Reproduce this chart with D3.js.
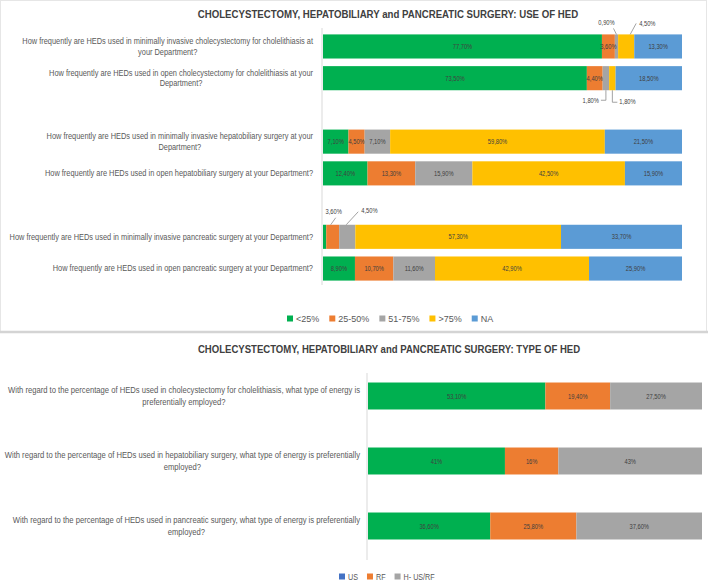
<!DOCTYPE html>
<html><head><meta charset="utf-8">
<script src="https://cdn.jsdelivr.net/npm/d3@7"></script>
<style>body{margin:0;background:#fff}svg{display:block}</style>
</head><body>
<script>
// ---------- DATA ----------
const topTitle = "CHOLECYSTECTOMY, HEPATOBILIARY and PANCREATIC SURGERY: USE OF HED";
const topQuestions = [
  ["How frequently are HEDs used in minimally invasive cholecystectomy for cholelithiasis at", "your Department?"],
  ["How frequently are HEDs used in open cholecystectomy for cholelithiasis at your", "Department?"],
  ["How frequently are HEDs used in minimally invasive hepatobiliary surgery at your", "Department?"],
  ["How frequently are HEDs used in open hepatobiliary surgery at your Department?"],
  ["How frequently are HEDs used in minimally invasive pancreatic surgery at your Department?"],
  ["How frequently are HEDs used in open pancreatic surgery at your Department?"]
];
const topGroup = ["cholecystectomy", "cholecystectomy", "hepatobiliary", "hepatobiliary", "pancreatic", "pancreatic"];
const topSeries = ["<25%", "25-50%", "51-75%", ">75%", "NA"];
const topLt25  = [77.7, 73.5, 7.1, 12.4, 0.9, 8.9];
const top25_50 = [3.6, 4.4, 4.5, 13.3, 3.6, 10.7];
const top51_75 = [0.9, 1.8, 7.1, 15.9, 4.5, 11.6];
const topGt75  = [4.5, 1.8, 59.8, 42.5, 57.3, 42.9];
const topNA    = [13.3, 18.5, 21.5, 15.9, 33.7, 25.9];

const bottomTitle = "CHOLECYSTECTOMY, HEPATOBILIARY and PANCREATIC SURGERY: TYPE OF HED";
const bottomQuestions = [
  ["With regard to the percentage of HEDs used in cholecystectomy for cholelithiasis, what type of energy is", "preferentially employed?"],
  ["With regard to the percentage of HEDs used in hepatobiliary surgery, what type of energy is preferentially", "employed?"],
  ["With regard to the percentage of HEDs used in pancreatic surgery, what type of energy is preferentially", "employed?"]
];
const bottomSeries = ["US", "RF", "H- US/RF"];
const bottomUS  = [53.1, 41, 36.6];
const bottomRF  = [19.4, 16, 25.8];
const bottomHyb = [27.5, 43, 37.6];

// ---------- STYLE ----------
const topColors = ["#00B050", "#ED7D31", "#A5A5A5", "#FFC000", "#5B9BD5"];
const bottomBarColors = ["#00B050", "#ED7D31", "#A5A5A5"];
const bottomLegendColors = ["#4472C4", "#ED7D31", "#A5A5A5"];
const font = "'Liberation Sans',Arial,sans-serif";

const W = 708, H = 586;
const svg = d3.select("body").append("svg").attr("width", W).attr("height", H);
svg.append("rect").attr("x", 0.5).attr("y", 0.5).attr("width", W - 2).attr("height", 331)
  .attr("fill", "none").attr("stroke", "#e6e6e6");
svg.append("line").attr("x1", 0).attr("x2", W).attr("y1", 332).attr("y2", 332)
  .attr("stroke", "#d4d4d4").attr("stroke-width", 2.5);

const fmt = v => Number.isInteger(v) ? v + "%" : v.toFixed(2).replace(".", ",") + "%";

// text condensed horizontally (Calibri-like narrow look) via a scale transform
function addText(parent, x, y, str, o) {
  const gg = parent.append("g").attr("transform", `translate(${x},${y}) scale(${o.k || 1},1)`);
  const t = gg.append("text").attr("x", 0).attr("y", 0).attr("text-anchor", o.anchor || "start")
    .attr("dy", o.dy || null)
    .attr("font-family", font).attr("font-size", o.size).attr("font-weight", o.weight || null)
    .attr("fill", o.fill || "#404040").text(str);
  return t.node().getComputedTextLength() * (o.k || 1);
}
function measure(str, size, weight) {
  const t = svg.append("text").attr("font-family", font).attr("font-size", size)
    .attr("font-weight", weight || null).text(str);
  const w = t.node().getComputedTextLength();
  t.remove();
  return w;
}

function drawPanel(cfg) {
  const g = svg.append("g");
  const rows = cfg.questions.map((q, i) => {
    const o = { key: cfg.keys[i], idx: i };
    cfg.series.forEach((s, j) => o[s] = cfg.values[j][i]);
    return o;
  });
  const stacked = d3.stack().keys(cfg.series)(rows);
  const x = d3.scaleLinear().domain([0, 100]).range(cfg.xRange);
  const y = d3.scaleBand().domain(cfg.domain).range(cfg.yRange)
    .paddingInner(cfg.padIn).paddingOuter(cfg.padIn / 2);

  // title
  const tk = cfg.titleW / measure(cfg.title, cfg.titleSize, "bold");
  addText(g, cfg.titleX, cfg.titleY, cfg.title, { size: cfg.titleSize, weight: "bold", anchor: "middle", k: tk });

  // category axis line (no ticks)
  const axis = d3.axisLeft(y).tickSize(0).tickFormat("");
  const ax = g.append("g").attr("transform", `translate(${x(0) - 1},0)`).call(axis);
  ax.select(".domain").attr("stroke", "#d9d9d9").attr("d", `M0,${cfg.axisY[0]}V${cfg.axisY[1]}`);

  // bars
  stacked.forEach((layer, j) => {
    g.append("g").selectAll("rect").data(layer).join("rect")
      .attr("x", d => x(d[0])).attr("width", d => x(d[1]) - x(d[0]))
      .attr("y", d => y(d.data.key)).attr("height", y.bandwidth())
      .attr("fill", cfg.barColors[j]);
  });
  // inner labels
  const lblG = g.append("g");
  stacked.forEach((layer, j) => {
    layer.filter(d => !cfg.skip(d.data.idx, j)).forEach(d => {
      addText(lblG, (x(d[0]) + x(d[1])) / 2, y(d.data.key) + y.bandwidth() / 2, fmt(cfg.values[j][d.data.idx]),
        { size: 7.2, anchor: "middle", dy: "0.35em", k: 0.8 });
    });
  });
  // callouts
  (cfg.callouts || []).forEach(c => {
    const d = stacked[c.series][c.row];
    const cx = (x(d[0]) + x(d[1])) / 2;
    const top = y(d.data.key), bot = top + y.bandwidth();
    const v = fmt(cfg.values[c.series][c.row]);
    let path, tx, ty, anchor;
    if (c.kind === "upLeft")  { path = `M${cx},${top}L${cx - 3},${top - 6}`; tx = cx - 10; ty = top - 9; anchor = "middle"; }
    if (c.kind === "upRight") { path = `M${cx + 4},${top}L${cx + 10},${top - 11}`; tx = cx + 13; ty = top - 8; anchor = "start"; }
    if (c.kind === "downLeft") { path = `M${cx},${bot}V${bot + 10}H${cx - 5}`; tx = cx - 7; ty = bot + 13; anchor = "end"; }
    if (c.kind === "downRight") { path = `M${cx},${bot}V${bot + 12}H${cx + 5}`; tx = cx + 7; ty = bot + 14; anchor = "start"; }
    if (c.kind === "up") { path = `M${cx - 2},${top}L${cx + 3},${top - 7}`; tx = cx + 1; ty = top - 11; anchor = "middle"; }
    if (c.kind === "upFar") { path = `M${cx - 1},${top}L${cx + 11},${top - 13}`; tx = cx + 14; ty = top - 12; anchor = "start"; }
    g.append("path").attr("d", path).attr("fill", "none").attr("stroke", "#8c8c8c").attr("stroke-width", 0.8);
    addText(g, tx, ty, v, { size: 7.2, anchor: anchor, k: 0.8 });
  });

  // question labels: one compression factor per panel, from the first line's measured width
  const k = cfg.firstLineW / measure(cfg.questions[0][0], cfg.qSize);
  rows.forEach((r, i) => {
    const lines = cfg.questions[i];
    const cy = y(r.key) + y.bandwidth() / 2;
    const lh = cfg.lineH;
    const w = addText(g, cfg.labelRight, cy - (lines.length - 1) * lh / 2, lines[0],
      { size: cfg.qSize, anchor: "end", dy: "0.35em", k: k, fill: "#595959" });
    if (lines.length > 1) {
      addText(g, cfg.labelRight - w / 2, cy + lh / 2, lines[1],
        { size: cfg.qSize, anchor: "middle", dy: "0.35em", k: k, fill: "#595959" });
    }
  });

  // legend
  const lg = g.append("g");
  let lx = cfg.legendX;
  cfg.series.forEach((s, j) => {
    lg.append("rect").attr("x", lx).attr("y", cfg.legendY - 3.5).attr("width", 6).attr("height", 6)
      .attr("fill", cfg.legendColors[j]);
    const lw = addText(lg, lx + 9, cfg.legendY, s,
      { size: cfg.legendSize, dy: "0.35em", k: cfg.legendK, fill: "#595959" });
    lx += 9 + lw + cfg.legendGap;
  });
}

// top panel domain with spacer slots between groups
const topKeys = topQuestions.map((q, i) => "q" + i);
const topDomain = [];
topKeys.forEach((k, i) => {
  if (i > 0 && topGroup[i] !== topGroup[i - 1]) topDomain.push("gap" + i);
  topDomain.push(k);
});

drawPanel({
  title: topTitle, titleX: 388, titleY: 18, titleSize: 11, titleW: 381,
  questions: topQuestions, keys: topKeys, domain: topDomain,
  series: topSeries, values: [topLt25, top25_50, top51_75, topGt75, topNA],
  barColors: topColors, legendColors: topColors,
  xRange: [323, 682], yRange: [30.6, 284.4], padIn: 0.24, axisY: [28, 285],
  labelRight: 313, qSize: 8.2, lineH: 10.5, firstLineW: 291,
  skip: (r, s) => (r === 0 && (s === 2 || s === 3)) || (r === 1 && (s === 2 || s === 3)) || (r === 4 && s <= 2),
  callouts: [
    { row: 0, series: 2, kind: "upLeft" }, { row: 0, series: 3, kind: "upRight" },
    { row: 1, series: 2, kind: "downLeft" }, { row: 1, series: 3, kind: "downRight" },
    { row: 4, series: 1, kind: "up" }, { row: 4, series: 2, kind: "upFar" }
  ],
  legendX: 287, legendY: 319, legendGap: 10, legendSize: 9.5, legendK: 0.95
});

drawPanel({
  title: bottomTitle, titleX: 389, titleY: 353, titleSize: 11, titleW: 383,
  questions: bottomQuestions, keys: bottomQuestions.map((q, i) => "b" + i), domain: bottomQuestions.map((q, i) => "b" + i),
  series: bottomSeries, values: [bottomUS, bottomRF, bottomHyb],
  barColors: bottomBarColors, legendColors: bottomLegendColors,
  xRange: [368, 702], yRange: [363.5, 558.5], padIn: 0.585, axisY: [373, 560],
  labelRight: 360, qSize: 8.4, lineH: 12, firstLineW: 352,
  skip: () => false, callouts: [],
  legendX: 339, legendY: 577, legendGap: 9, legendSize: 9, legendK: 0.8
});
</script>
</body></html>
